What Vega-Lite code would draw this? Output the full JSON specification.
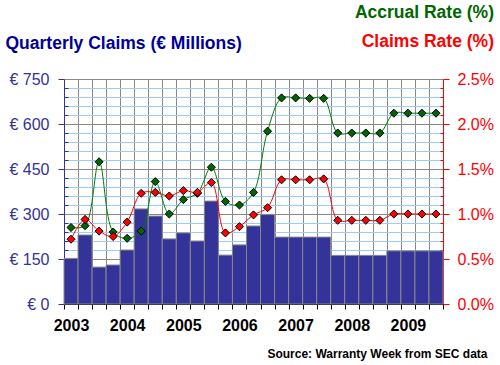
{
  "$schema": "https://vega.github.io/schema/vega-lite/v6.json",
  "autosize": "none",
  "width": 379,
  "height": 225,
  "padding": {"left": 64, "top": 79, "right": 57, "bottom": 61},
  "background": "white",
  "config": {
    "view": {"stroke": null},
    "font": "Liberation Sans"
  },
  "title": {
    "text": "Accrual Rate (%)",
    "subtitle": "Claims Rate (%)",
    "anchor": "end",
    "frame": "group",
    "font": "Liberation Sans",
    "subtitleFont": "Liberation Sans",
    "fontSize": 17.5,
    "subtitleFontSize": 17.5,
    "fontWeight": "bold",
    "subtitleFontWeight": "bold",
    "color": "#006600",
    "subtitleColor": "#ff0000",
    "subtitlePadding": 12,
    "offset": -16,
    "dx": 51
  },
  "data": {
    "values": [
      {"quarter": "2003 Q1", "claims": 152, "accrual": 0.85, "claimsRate": 0.72},
      {"quarter": "2003 Q2", "claims": 230, "accrual": 0.87, "claimsRate": 0.94},
      {"quarter": "2003 Q3", "claims": 123, "accrual": 1.58, "claimsRate": 0.81},
      {"quarter": "2003 Q4", "claims": 130, "accrual": 0.80, "claimsRate": 0.75},
      {"quarter": "2004 Q1", "claims": 180, "accrual": 0.73, "claimsRate": 0.91},
      {"quarter": "2004 Q2", "claims": 317, "accrual": 0.81, "claimsRate": 1.23},
      {"quarter": "2004 Q3", "claims": 293, "accrual": 1.36, "claimsRate": 1.24},
      {"quarter": "2004 Q4", "claims": 217, "accrual": 1.00, "claimsRate": 1.20},
      {"quarter": "2005 Q1", "claims": 237, "accrual": 1.16, "claimsRate": 1.26},
      {"quarter": "2005 Q2", "claims": 210, "accrual": 1.23, "claimsRate": 1.24},
      {"quarter": "2005 Q3", "claims": 343, "accrual": 1.52, "claimsRate": 1.35},
      {"quarter": "2005 Q4", "claims": 163, "accrual": 1.14, "claimsRate": 0.79},
      {"quarter": "2006 Q1", "claims": 197, "accrual": 1.10, "claimsRate": 0.86},
      {"quarter": "2006 Q2", "claims": 260, "accrual": 1.24, "claimsRate": 0.99},
      {"quarter": "2006 Q3", "claims": 298, "accrual": 1.92, "claimsRate": 1.07},
      {"quarter": "2006 Q4", "claims": 223, "accrual": 2.29, "claimsRate": 1.38},
      {"quarter": "2007 Q1", "claims": 223, "accrual": 2.29, "claimsRate": 1.38},
      {"quarter": "2007 Q2", "claims": 223, "accrual": 2.285, "claimsRate": 1.38},
      {"quarter": "2007 Q3", "claims": 223, "accrual": 2.285, "claimsRate": 1.39},
      {"quarter": "2007 Q4", "claims": 162, "accrual": 1.90, "claimsRate": 0.93},
      {"quarter": "2008 Q1", "claims": 162, "accrual": 1.90, "claimsRate": 0.93},
      {"quarter": "2008 Q2", "claims": 162, "accrual": 1.90, "claimsRate": 0.93},
      {"quarter": "2008 Q3", "claims": 162, "accrual": 1.90, "claimsRate": 0.93},
      {"quarter": "2008 Q4", "claims": 177, "accrual": 2.12, "claimsRate": 1.00},
      {"quarter": "2009 Q1", "claims": 177, "accrual": 2.12, "claimsRate": 1.00},
      {"quarter": "2009 Q2", "claims": 177, "accrual": 2.12, "claimsRate": 1.00},
      {"quarter": "2009 Q3", "claims": 177, "accrual": 2.12, "claimsRate": 1.00}
    ]
  },
  "encoding": {
    "x": {
      "field": "quarter",
      "type": "ordinal",
      "sort": null,
      "scale": {"paddingInner": 0, "paddingOuter": 0},
      "axis": {
        "title": "Source: Warranty Week from SEC data",
        "titleFont": "Liberation Sans",
        "titleFontSize": 12,
        "titleFontWeight": "bold",
        "titleColor": "black",
        "titleAlign": "right",
        "titleBaseline": "alphabetic",
        "titleX": 423,
        "titleY": 53.5,
        "labelAngle": 0,
        "labelExpr": "isString(datum.value) && indexof(datum.value, 'Q1') > 0 ? substring(datum.value, 0, 4) : ''",
        "labelFont": "Liberation Sans",
        "labelFontSize": 16,
        "labelFontWeight": "bold",
        "labelColor": "black",
        "labelPadding": 8,
        "labelOverlap": false,
        "tickBand": "extent",
        "tickColor": "black",
        "tickSize": 5,
        "domainColor": "black",
        "grid": true,
        "gridColor": "#888888",
        "gridWidth": 1
      }
    }
  },
  "layer": [
    {
      "mark": {"type": "bar", "color": "#333399", "stroke": "#888888", "strokeWidth": 1},
      "encoding": {
        "y": {
          "field": "claims",
          "type": "quantitative",
          "scale": {"domain": [0, 750], "nice": false},
          "axis": {
            "title": "Quarterly Claims (€ Millions)",
            "titleAngle": 0,
            "titleAlign": "left",
            "titleBaseline": "alphabetic",
            "titleX": -59,
            "titleY": -30.5,
            "titleFont": "Liberation Sans",
            "titleFontSize": 17.5,
            "titleFontWeight": "bold",
            "titleColor": "#000099",
            "values": [0, 30, 60, 90, 120, 150, 180, 210, 240, 270, 300, 330, 360, 390, 420, 450, 480, 510, 540, 570, 600, 630, 660, 690, 720, 750],
            "labelExpr": "datum.value % 150 === 0 ? '€ ' + datum.value : ''",
            "labelFont": "Liberation Sans",
            "labelFontSize": 16,
            "labelColor": "#333399",
            "labelPadding": 9,
            "labelOverlap": false,
            "domainColor": "#333399",
            "tickColor": "#333399",
            "tickSize": {"condition": {"test": "datum.value % 150 === 0", "value": 6}, "value": -4},
            "grid": true,
            "gridColor": {"condition": {"test": "datum.value % 150 === 0", "value": "#888888"}, "value": "#99ccff"},
            "gridWidth": 1
          }
        }
      }
    },
    {
      "mark": {
        "type": "line",
        "color": "#008000",
        "strokeWidth": 1,
        "interpolate": "catmull-rom",
        "point": {"shape": "diamond", "size": 65, "filled": true, "fill": "#006600", "stroke": "black", "strokeWidth": 1}
      },
      "encoding": {
        "y": {
          "field": "accrual",
          "type": "quantitative",
          "scale": {"domain": [0, 2.5], "nice": false},
          "axis": {
            "orient": "right",
            "title": null,
            "values": [0, 0.1, 0.2, 0.3, 0.4, 0.5, 0.6, 0.7, 0.8, 0.9, 1.0, 1.1, 1.2, 1.3, 1.4, 1.5, 1.6, 1.7, 1.8, 1.9, 2.0, 2.1, 2.2, 2.3, 2.4, 2.5],
            "labelExpr": "round(datum.value * 10) % 5 === 0 ? format(datum.value, '.1f') + '%' : ''",
            "labelFont": "Liberation Sans",
            "labelFontSize": 16,
            "labelColor": "#ff0000",
            "labelPadding": 8,
            "labelOverlap": false,
            "domainColor": "#ff0000",
            "tickColor": "#ff0000",
            "tickSize": {"condition": {"test": "round(datum.value * 10) % 5 === 0", "value": 6}, "value": -3},
            "grid": false
          }
        }
      }
    },
    {
      "mark": {
        "type": "line",
        "color": "#ff0000",
        "strokeWidth": 1,
        "interpolate": "catmull-rom",
        "point": {"shape": "diamond", "size": 65, "filled": true, "fill": "#ff0000", "stroke": "black", "strokeWidth": 1}
      },
      "encoding": {
        "y": {
          "field": "claimsRate",
          "type": "quantitative",
          "scale": {"domain": [0, 2.5], "nice": false},
          "axis": null
        }
      }
    }
  ],
  "resolve": {"scale": {"y": "independent"}, "axis": {"y": "independent"}}
}
